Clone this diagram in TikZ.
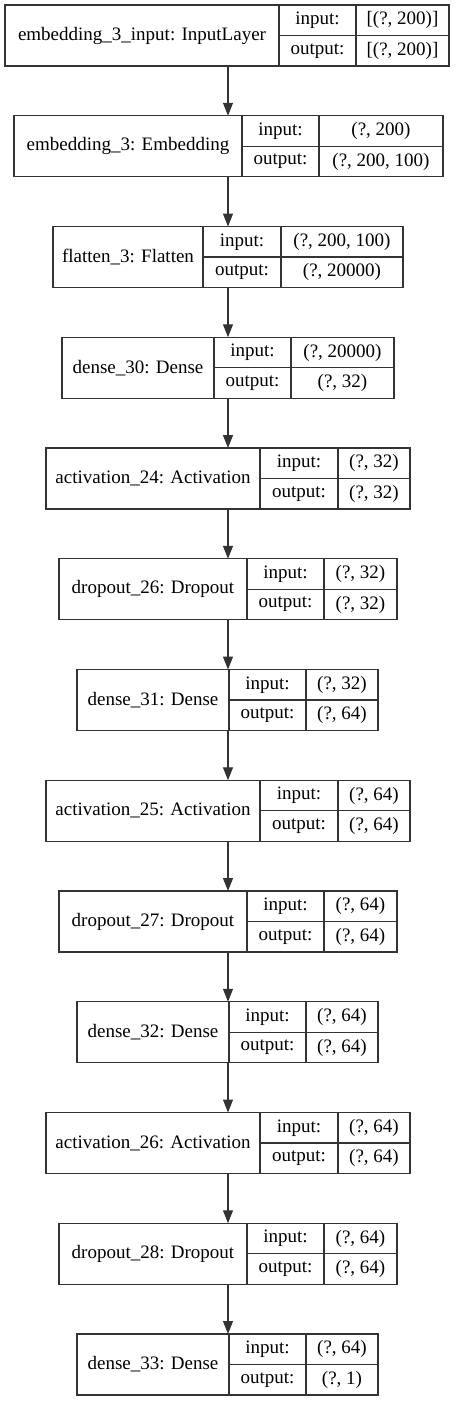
\documentclass[tikz,border=0pt]{standalone}
\usepackage{fontspec}
\setmainfont{Liberation Serif}
\usetikzlibrary{arrows.meta}
\newcommand\kLayer[9]{%
  % #1 name, #2 x0, #3 d1, #4 d2, #5 x1, #6 ytop, #7 label, #8 in, #9 out
  \node[boxcell, minimum width=#5pt-#2pt, minimum height=61pt] (#1) at (#2,#6) {};
  \node[boxcell, minimum width=#3pt-#2pt, minimum height=61pt] (#1-name) at (#2,#6) {#7};
  \node[boxcell, minimum width=#4pt-#3pt, minimum height=30.5pt] (#1-il) at (#3,#6) {input:};
  \node[boxcell, minimum width=#5pt-#4pt, minimum height=30.5pt] (#1-iv) at (#4,#6) {#8};
  \node[boxcell, minimum width=#4pt-#3pt, minimum height=30.5pt] (#1-ol) at (#3,#6+30.5) {output:};
  \node[boxcell, minimum width=#5pt-#4pt, minimum height=30.5pt] (#1-ov) at (#4,#6+30.5) {#9};
}
\tikzset{
  boxcell/.style={draw=black!80, line width=1.1pt, anchor=north west, inner sep=0pt, outer sep=0pt,
    font=\fontsize{19}{22}\selectfont, text=black},
  flow/.style={draw=black!80, line width=1.1pt, -{Triangle[length=13pt,width=10pt]}},
}
\begin{document}
\begin{tikzpicture}[x=1pt,y=-1pt]
\useasboundingbox (0,0) rectangle (456,1401);
\kLayer{l1}{5}{279}{356}{449}{5}{embedding\_3\_input: InputLayer}{[(?, 200)]}{[(?, 200)]}
\kLayer{l2}{14}{242}{319}{443}{115.75}{embedding\_3: Embedding}{(?, 200)}{(?, 200, 100)}
\kLayer{l3}{53}{203}{281}{403}{226.5}{flatten\_3: Flatten}{(?, 200, 100)}{(?, 20000)}
\kLayer{l4}{62}{214}{291}{394}{337.25}{dense\_30: Dense}{(?, 20000)}{(?, 32)}
\kLayer{l5}{46}{260}{338}{410}{448}{activation\_24: Activation}{(?, 32)}{(?, 32)}
\kLayer{l6}{59}{247}{324}{397}{558.75}{dropout\_26: Dropout}{(?, 32)}{(?, 32)}
\kLayer{l7}{77}{229}{306}{378}{669.5}{dense\_31: Dense}{(?, 32)}{(?, 64)}
\kLayer{l8}{46}{260}{338}{410}{780.25}{activation\_25: Activation}{(?, 64)}{(?, 64)}
\kLayer{l9}{59}{247}{324}{397}{891}{dropout\_27: Dropout}{(?, 64)}{(?, 64)}
\kLayer{l10}{77}{229}{306}{378}{1001.75}{dense\_32: Dense}{(?, 64)}{(?, 64)}
\kLayer{l11}{46}{260}{338}{410}{1112.5}{activation\_26: Activation}{(?, 64)}{(?, 64)}
\kLayer{l12}{59}{247}{324}{397}{1223.25}{dropout\_28: Dropout}{(?, 64)}{(?, 64)}
\kLayer{l13}{77}{229}{306}{378}{1334}{dense\_33: Dense}{(?, 64)}{(?, 1)}
\foreach \a/\b in {l1/l2,l2/l3,l3/l4,l4/l5,l5/l6,l6/l7,l7/l8,l8/l9,l9/l10,l10/l11,l11/l12,l12/l13}
  \draw[flow] (\a.south -| 228,0) -- (\b.north -| 228,0);
\end{tikzpicture}
\end{document}
